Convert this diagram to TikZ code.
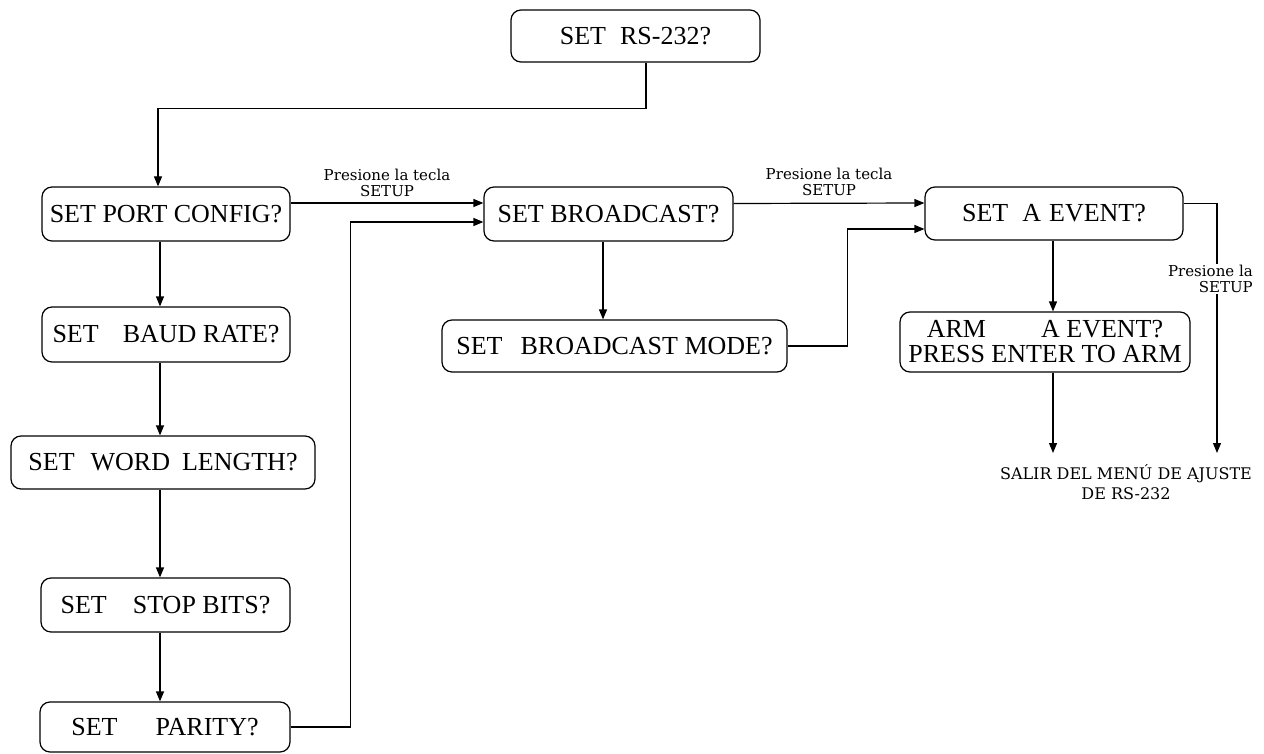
\documentclass[tikz,border=0pt]{standalone}
\usepackage{fontspec}
\setmainfont{Liberation Serif}
\newfontfamily\labfont{DejaVu Serif}
\usetikzlibrary{arrows.meta}
\begin{document}
\begin{tikzpicture}[x=1pt,y=-1pt,
  box/.style={draw, line width=1.2pt, rounded corners=10pt, inner sep=0pt,
    font=\fontsize{26}{23}\selectfont, align=center},
  arr/.style={line width=1.2pt, -{Triangle[length=10pt,width=8pt]}},
  con/.style={line width=1.2pt},
  lab/.style={font=\labfont\fontsize{15}{16}\selectfont, align=center, inner sep=1pt}]
\useasboundingbox[fill=white] (0,0) rectangle (1264,754);

% boxes
\node[box, minimum width=249pt, minimum height=52pt] (rs) at (635.5,36) {SET\hspace{14pt}RS-232?};
\node[box, minimum width=248pt, minimum height=54pt] (port) at (166,214) {SET PORT CONFIG?};
\node[box, minimum width=248pt, minimum height=55pt] (baud) at (166,334.5) {SET\hspace{24pt}BAUD RATE?};
\node[box, minimum width=304pt, minimum height=53pt] (word) at (163,462.5) {SET\hspace{16pt}WORD\hspace{12pt}LENGTH?};
\node[box, minimum width=249pt, minimum height=54pt] (stop) at (165.5,605) {SET\hspace{26pt}STOP BITS?};
\node[box, minimum width=250pt, minimum height=50pt] (parity) at (165,727) {SET\hspace{38pt}PARITY?};
\node[box, minimum width=249pt, minimum height=54pt] (bc) at (608.5,214) {SET BROADCAST?};
\node[box, minimum width=345pt, minimum height=52pt] (mode) at (614.5,346) {SET\hspace{18pt}BROADCAST MODE?};
\node[box, minimum width=258pt, minimum height=53pt] (ev) at (1054,213.5) {SET\hspace{14pt}A\hspace{8pt}EVENT?};
\node[box, minimum width=290pt, minimum height=60pt, font=\fontsize{26}{25}\selectfont] (arm) at (1045,342) {ARM\hspace{55pt}A EVENT?\\PRESS ENTER TO ARM};

% exit text
\node[lab, font=\labfont\fontsize{16}{20}\selectfont] (exit) at (1126,482) {SALIR DEL MENÚ DE AJUSTE\\DE RS-232};

% helper columns
\coordinate (xl) at (160,0);
\coordinate (xb) at (603,0);
\coordinate (xe) at (1053,0);
\coordinate (xr) at (1217,0);
\coordinate (xt) at (0,453);

% connectors
\draw[arr] ([xshift=10.5pt]rs.south) -- ++(0,46) -| ([xshift=-8pt]port.north);
\draw[arr] ([yshift=11pt]port.east) -- ([yshift=11pt]bc.west)
  node[lab, midway, above=5pt] {Presione la tecla\\SETUP};
\draw[arr] (parity.east) -- ++(60,0) |- ([yshift=-8pt]bc.west);
\draw[arr] (port.south -| xl) -- (baud.north -| xl);
\draw[arr] (baud.south -| xl) -- (word.north -| xl);
\draw[arr] (word.south -| xl) -- (stop.north -| xl);
\draw[arr] (stop.south -| xl) -- (parity.north -| xl);
\draw[arr] (bc.south -| xb) -- (mode.north -| xb);
\draw[arr] (mode.east) -- ++(60,0) |- ([yshift=-15.5pt]ev.west);
\draw[arr] ([yshift=10.5pt]bc.east) -- ([yshift=10.5pt]ev.west)
  node[lab, midway, above=6pt] {Presione la tecla\\SETUP};
\draw[arr] (ev.south -| xe) -- (arm.north -| xe);
\draw[arr] (arm.south -| xe) -- (xt -| xe);
\draw[arr] ([yshift=10pt]ev.east) -| (xt -| xr);
\node[lab, fill=white, anchor=east, align=right] (lab3) at (1254,279) {Presione la\\SETUP};
\end{tikzpicture}
\end{document}
